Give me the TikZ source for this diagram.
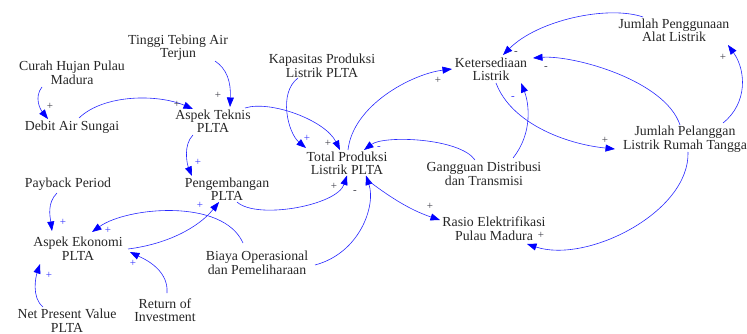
\documentclass[tikz,border=0pt]{standalone}
\usepackage{fontspec}
\setmainfont{Liberation Serif}
\usetikzlibrary{arrows.meta,calc}
\definecolor{lnk}{RGB}{40,40,255}
\definecolor{tip}{RGB}{0,0,255}
\definecolor{pdark}{RGB}{60,60,70}
\definecolor{pblue}{RGB}{50,50,255}
\begin{document}
\begin{tikzpicture}[x=1pt,y=-1pt,
  var/.style={align=center,inner sep=0pt,font=\fontsize{13.8}{13.5}\selectfont,text=black!85},
  link/.style={lnk,line width=0.6pt,-{Triangle[length=9.5pt,width=7pt,fill=tip,color=tip]}},
  pd/.style={inner sep=0pt,text=pdark,font=\fontsize{11}{11}\selectfont},
  pb/.style={inner sep=0pt,text=pblue,font=\fontsize{11}{11}\selectfont}]
\useasboundingbox (0,0) rectangle (747,334);
% variables
\node[var] (curah) at (72,73) {Curah Hujan Pulau\\Madura};
\node[var] (debit) at (72,127) {Debit Air Sungai};
\node[var] (tinggi) at (178,47.5) {Tinggi Tebing Air\\Terjun};
\node[var] (teknis) at (213,121) {Aspek Teknis\\PLTA};
\node[var] (kapasitas) at (322,66) {Kapasitas Produksi\\Listrik PLTA};
\node[var] (total) at (347,163.5) {Total Produksi\\Listrik PLTA};
\node[var] (keter) at (491,69.5) {Ketersediaan\\Listrik};
\node[var] (penggunaan) at (674,30.5) {Jumlah Penggunaan\\Alat Listrik};
\node[var] (pelanggan) at (685,139) {Jumlah Pelanggan\\Listrik Rumah Tangga};
\node[var] (gangguan) at (484,174) {Gangguan Distribusi\\dan Transmisi};
\node[var] (rasio) at (494,228.5) {Rasio Elektrifikasi\\Pulau Madura};
\node[var] (payback) at (68,184) {Payback Period};
\node[var] (pengembangan) at (227,189) {Pengembangan\\PLTA};
\node[var] (ekonomi) at (78,248.5) {Aspek Ekonomi\\PLTA};
\node[var] (biaya) at (257,263) {Biaya Operasional\\dan Pemeliharaan};
\node[var] (roi) at (165,310) {Return of\\Investment};
\node[var] (npv) at (67,320.5) {Net Present Value\\PLTA};
% links
\draw[link] ($(curah)+(-30,14)$) .. controls +(-8,10) and +(-8,-10) .. ($(debit)+(-24,-8)$);
\draw[link] ($(debit)+(7,-9)$) .. controls +(25,-24) and +(-35,-15) .. ($(teknis)+(-20,-12)$);
\draw[link] ($(tinggi)+(37,13.5)$) .. controls +(12,8) and +(1,-25) .. ($(teknis)+(17,-14)$);
\draw[link] ($(teknis)+(32,-13)$) .. controls +(25,-8) and +(-15,-30) .. ($(total)+(-7,-13.5)$);
\draw[link] ($(kapasitas)+(-24,12)$) .. controls +(-20,15) and +(-18,-15) .. ($(total)+(-41,-15.5)$);
\draw[link] ($(total)+(1,-13.5)$) .. controls +(5,-45) and +(-40,5) .. ($(keter)+(-39,-0.5)$);
\draw[link] ($(gangguan)+(-9,-14)$) .. controls +(-15,-22) and +(20,-15) .. ($(total)+(17,-13.5)$);
\draw[link] ($(gangguan)+(29,-16)$) .. controls +(20,-25) and +(8,20) .. ($(keter)+(30,13.5)$);
\draw[link] ($(pengembangan)+(10,13)$) .. controls +(20,18) and +(-10,30) .. ($(total)+(0,12)$);
\draw[link] ($(biaya)+(58,2)$) .. controls +(45,-12) and +(10,30) .. ($(total)+(19,12)$);
\draw[link] ($(total)+(23,18.5)$) .. controls +(20,15) and +(-30,-10) .. ($(rasio)+(-54,-8.5)$);
\draw[link] ($(teknis)+(-20,14)$) .. controls +(-10,10) and +(-5,-12) .. ($(pengembangan)+(-35,-13)$);
\draw[link] ($(payback)+(-11,9)$) .. controls +(-10,10) and +(-2,-15) .. ($(ekonomi)+(-26,-17.5)$);
\draw[link] ($(biaya)+(-14,-20)$) .. controls +(-20,-45) and +(35,-25) .. ($(ekonomi)+(14,-16.5)$);
\draw[link] ($(ekonomi)+(50,0.5)$) .. controls +(40,-5) and +(-20,25) .. ($(pengembangan)+(-8,13)$);
\draw[link] ($(roi)+(2,-17)$) .. controls +(2,-25) and +(10,5) .. ($(ekonomi)+(52,3.5)$);
\draw[link] ($(npv)+(-24,-13.5)$) .. controls +(-12,-10) and +(-4,12) .. ($(ekonomi)+(-38,15.5)$);
\draw[link] ($(penggunaan)+(-31,-13.5)$) .. controls +(-35,-12) and +(35,-35) .. ($(keter)+(12,-14.5)$);
\draw[link] ($(pelanggan)+(-5,-14)$) .. controls +(-15,-45) and +(40,-3) .. ($(keter)+(42,-11.5)$);
\draw[link] ($(keter)+(5,13.5)$) .. controls +(15,40) and +(-50,-5) .. ($(pelanggan)+(-70,10)$);
\draw[link] ($(pelanggan)+(38,-16)$) .. controls +(25,-20) and +(18,25) .. ($(penggunaan)+(54,14.5)$);
\draw[link] ($(pelanggan)+(3,13)$) .. controls +(2,60) and +(60,20) .. ($(rasio)+(33,15.5)$);
% polarities
\node[pd] (p1) at (50,106) {+};
\node[pd] (p2) at (177,104) {+};
\node[pd] (p3) at (218,95) {+};
\node[pd] (p4) at (328,143) {+};
\node[pb] (p5) at (307,138) {+};
\node[pb] (p7) at (379,148) {-};
\node[pd] (p6) at (438,80) {+};
\node[pb] (p8) at (513,98) {-};
\node[pd] (p9) at (334,186) {+};
\node[pd] (p10) at (355,192) {-};
\node[pd] (p11) at (430,206) {+};
\node[pb] (p12) at (198,162) {+};
\node[pb] (p13) at (63,222) {+};
\node[pb] (p14) at (108,230) {+};
\node[pb] (p15) at (200,205) {+};
\node[pb] (p16) at (133,263) {+};
\node[pb] (p17) at (49,275) {+};
\node[pd] (p18) at (516,53) {-};
\node[pd] (p19) at (546,68) {-};
\node[pd] (p20) at (605,140) {+};
\node[pd] (p21) at (723,57) {+};
\node[pd] (p22) at (541,235) {+};
\end{tikzpicture}
\end{document}
